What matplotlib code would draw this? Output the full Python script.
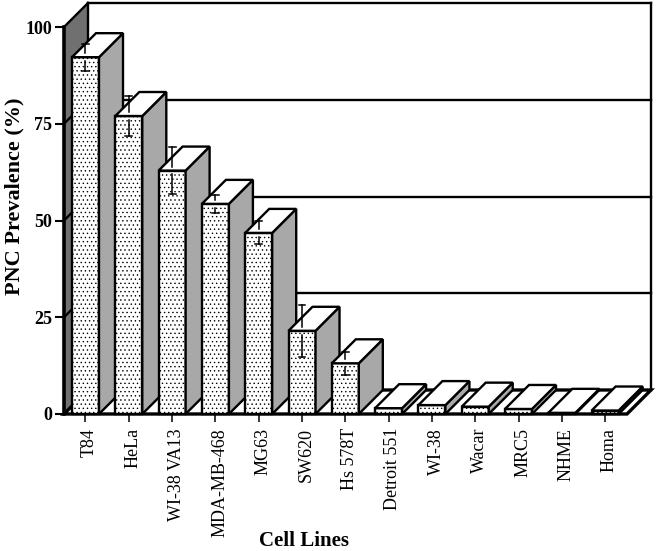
import matplotlib
matplotlib.use("Agg")
import matplotlib.pyplot as plt
from matplotlib.patches import Polygon

cell_lines = ["T84", "HeLa", "WI-38 VA13", "MDA-MB-468", "MG63", "SW620", "Hs 578T",
              "Detroit 551", "WI-38", "Wacar", "MRC5", "NHME", "Homa"]
prevalence = [92.2, 77.0, 62.9, 54.3, 46.8, 21.5, 13.1, 1.5, 2.3, 1.9, 1.3, 0.3, 0.9]
errors = [3.5, 5.2, 6.1, 2.3, 3.0, 6.7, 3.0, 0, 0, 0, 0, 0, 0]
y_ticks = [0, 25, 50, 75, 100]

W, H = 657, 551
DX = 24 / 43.3   # depth of the 3-D box in category units
DY = 24 / 3.87   # depth of the 3-D box in value units
BW = 27 / 43.3
GAP = 1.0
serif = ["Liberation Serif", "DejaVu Serif"]
plt.rcParams["hatch.linewidth"] = 0.5

fig = plt.figure(figsize=(W / 100, H / 100), dpi=100)
ax = fig.add_axes([64 / W, (H - 414) / H, 563 / W, 387 / H])
x0, x1 = -0.4965, 12.505
ax.set_xlim(x0, x1)
ax.set_ylim(0, 100)
for s in ax.spines.values():
    s.set_visible(False)
ax.patch.set_visible(False)
k = dict(clip_on=False)
LW = 1.7

# left wall
ax.add_patch(Polygon([(x0, 0), (x0 + DX, DY), (x0 + DX, 100 + DY), (x0, 100)],
                     fc="#707070", ec="none", zorder=1, **k))
# back wall grid and frame
for v in y_ticks[1:]:
    ax.plot([x0 + DX, x1 + DX], [v + DY, v + DY], color="k", lw=LW, zorder=1.5, **k)
    ax.plot([x0, x0 + DX], [v, v + DY], color="k", lw=LW, zorder=1.5, **k)
ax.plot([x0 + DX, x0 + DX], [DY, 100 + DY], color="k", lw=LW, zorder=1.5, **k)
ax.plot([x1 + DX, x1 + DX], [DY, 100 + DY], color="k", lw=LW, zorder=1.5, **k)
# floor
ax.add_patch(Polygon([(x0, 0), (x1, 0), (x1 + DX, DY), (x0 + DX, DY)],
                     fc="white", ec="k", lw=LW + 0.7, zorder=1.6, joinstyle="miter", **k))
ax.plot([x0, x0], [0, 100], color="k", lw=2.6, zorder=1.7, solid_capstyle="projecting", **k)

# bars, drawn left to right so that each one covers the previous side face
for i, (v, e) in enumerate(zip(prevalence, errors)):
    z = 2 + i * 0.1
    l, r = i - BW / 2, i + BW / 2
    ax.bar(i, v, BW, color="white", edgecolor="k", linewidth=LW, hatch="....", zorder=z, **k)
    ax.add_patch(Polygon([(r, 0), (r + DX, DY), (r + DX, v + DY), (r, v)],
                         fc="#a8a8a8", ec="k", lw=LW, zorder=z, joinstyle="miter", **k))
    ax.add_patch(Polygon([(l, v), (r, v), (r + DX, v + DY), (l + DX, v + DY)],
                         fc="white", ec="k", lw=LW, zorder=z, joinstyle="miter", **k))
    if e:
        ax.plot([i, i], [v + GAP, v + e], color="k", lw=1.1, zorder=z + 0.05, **k)
        ax.plot([i, i], [v - GAP, v - e], color="k", lw=1.1, zorder=z + 0.05, **k)
        ax.plot([i - 0.08, i + 0.08], [v + e, v + e], color="k", lw=1.1, zorder=z + 0.05, **k)
        ax.plot([i - 0.08, i + 0.08], [v - e, v - e], color="k", lw=1.1, zorder=z + 0.05, **k)

ax.set_xticks(range(len(cell_lines)))
ax.set_xticklabels([])
for i, name in enumerate(cell_lines):
    ax.annotate(name, (i, 0), xytext=(3, -10), textcoords="offset points", rotation=90,
                ha="center", va="top", family=serif, fontsize=13, annotation_clip=False)
ax.set_yticks(y_ticks)
ax.set_yticklabels([str(v) for v in y_ticks], family=serif, fontsize=13, fontweight="bold")
ax.tick_params(axis="x", length=5.5, width=1.1, pad=4)
ax.tick_params(axis="y", length=6.5, width=1.5, pad=2)

fig.text(14 / W, 1 - 196 / H, "PNC Prevalence (%)", rotation=90, ha="center", va="center",
         family=serif, fontsize=16, fontweight="bold")
fig.text(304 / W, 1 - 541 / H, "Cell Lines", ha="center", va="center",
         family=serif, fontsize=15, fontweight="bold")

fig.savefig("out.png", dpi=100)
